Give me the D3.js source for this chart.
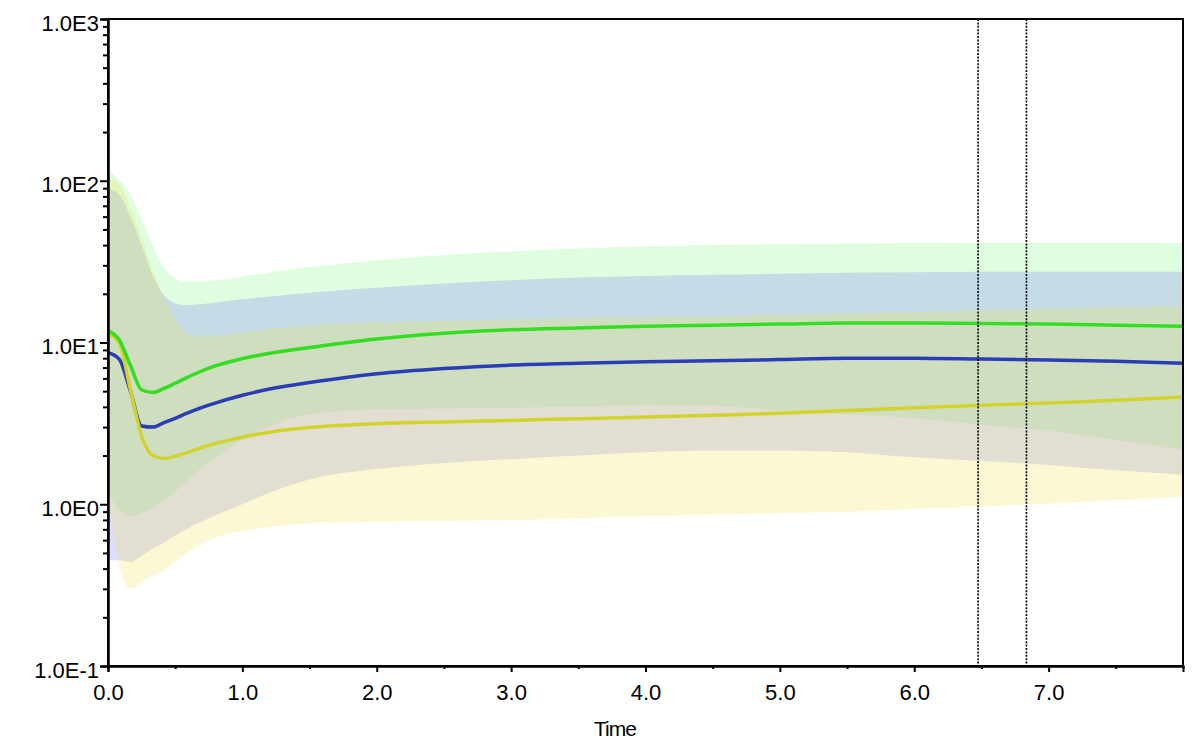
<!DOCTYPE html>
<html><head><meta charset="utf-8">
<script src="https://cdn.jsdelivr.net/npm/d3@7"></script>
<style>
body{margin:0;background:#fff}
svg{display:block}
text{font-family:"Liberation Sans",Arial,sans-serif;fill:#000}
</style>
</head><body><svg id="c" width="1200" height="746"></svg>
<script>
// ---- data ----
const times        = [0, 0.083, 0.167, 0.25, 0.333, 0.417, 0.5, 0.583, 0.667, 0.75, 1, 1.25, 1.5, 2, 2.5, 3, 3.5, 4, 4.5, 5, 5.5, 6, 6.5, 7, 7.5, 8];

const greenMedian  = [11.8, 10.4, 7.2, 5.1, 4.9, 5.2, 5.6, 6.05, 6.5, 6.95, 7.95, 8.7, 9.3, 10.5, 11.4, 12.0, 12.3, 12.6, 12.8, 13.0, 13.2, 13.2, 13.1, 13.0, 12.8, 12.6];
const greenUpper   = [119, 101, 82, 58, 40, 29, 25, 23.8, 23.8, 24, 25.5, 27.5, 29.3, 32.3, 34.8, 36.5, 38, 39.3, 40, 40.5, 41, 41.2, 41.4, 41.4, 41.3, 41.2];
const greenLower   = [1.17, 0.92, 0.84, 0.88, 0.95, 1.05, 1.2, 1.38, 1.6, 1.8, 2.5, 3.15, 3.6, 3.85, 3.9, 3.95, 4.0, 4.1, 4.05, 3.8, 3.6, 3.4, 3.1, 2.85, 2.5, 2.16];

const blueMedian   = [8.65, 7.9, 5.0, 3.05, 3.0, 3.2, 3.4, 3.65, 3.88, 4.1, 4.72, 5.25, 5.65, 6.4, 6.9, 7.25, 7.45, 7.6, 7.7, 7.85, 8.0, 8.0, 7.9, 7.8, 7.65, 7.45];
const blueUpper    = [90, 82, 60, 40, 26, 19.5, 17.5, 17, 17.2, 17.5, 18.5, 19.4, 20.3, 21.8, 23.2, 24.3, 25.2, 25.8, 26.2, 26.6, 27, 27.2, 27.4, 27.4, 27.4, 27.4];
const blueLower    = [0.45, 0.45, 0.44, 0.48, 0.53, 0.58, 0.64, 0.7, 0.76, 0.82, 1.0, 1.22, 1.42, 1.65, 1.8, 1.9, 2.0, 2.1, 2.15, 2.15, 2.1, 1.95, 1.85, 1.75, 1.62, 1.52];

const yellowMedian = [11.3, 10.0, 5.1, 2.64, 2.0, 1.92, 1.98, 2.08, 2.2, 2.31, 2.6, 2.83, 2.98, 3.15, 3.23, 3.3, 3.38, 3.46, 3.55, 3.65, 3.8, 3.95, 4.1, 4.23, 4.4, 4.6];
const yellowUpper  = [104, 95, 68, 44, 28, 19, 14, 11.5, 11, 11, 11.5, 12.2, 12.8, 13.3, 13.7, 13.9, 14.1, 14.3, 14.5, 14.8, 15.1, 15.4, 15.8, 16.1, 16.5, 16.8];
const yellowLower  = [1.17, 0.42, 0.30, 0.33, 0.36, 0.39, 0.44, 0.5, 0.55, 0.6, 0.68, 0.73, 0.76, 0.78, 0.79, 0.8, 0.82, 0.84, 0.86, 0.88, 0.9, 0.93, 0.97, 1.01, 1.06, 1.11];

const yTickValues  = [0.1, 1, 10, 100, 1000];
const yTickLabels  = ["1.0E-1", "1.0E0", "1.0E1", "1.0E2", "1.0E3"];
const xTickValues  = [0, 1, 2, 3, 4, 5, 6, 7];
const xTickLabels  = ["0.0", "1.0", "2.0", "3.0", "4.0", "5.0", "6.0", "7.0"];
const xMinorTicks  = [0.5, 1.5, 2.5, 3.5, 4.5, 5.5, 6.5, 7.5];
const markerTimes  = [6.475, 6.835];
const xTitle = "Time";

// ---- layout ----
const L = 108, R = 1183, T = 19, B = 666;
const svg = d3.select("#c");
const x = d3.scaleLinear().domain([0, 8]).range([L, R]);
const y = d3.scaleLog().domain([0.1, 1000]).range([B, T]);

svg.append("clipPath").attr("id", "clip").append("rect")
  .attr("x", L).attr("y", T).attr("width", R - L).attr("height", B - T);

const plot = svg.append("g").attr("clip-path", "url(#clip)");

const series = [
  {med: greenMedian,  lo: greenLower,  hi: greenUpper,  band: "rgb(129,247,129)", line: "#33dd22"},
  {med: blueMedian,   lo: blueLower,   hi: blueUpper,   band: "rgb(121,125,250)", line: "#2b3db5"},
  {med: yellowMedian, lo: yellowLower, hi: yellowUpper, band: "rgb(243,227,80)",  line: "#d2d22c"}
];

const area = (lo, hi) => d3.area()
  .curve(d3.curveMonotoneX)
  .x((d, i) => x(times[i]))
  .y0((d, i) => y(lo[i]))
  .y1((d, i) => y(hi[i]))(times);

series.forEach(s => {
  plot.append("path").attr("d", area(s.lo, s.hi))
    .attr("fill", s.band).attr("fill-opacity", 0.25).attr("stroke", "none");
});

const line = vals => d3.line()
  .curve(d3.curveMonotoneX)
  .x((d, i) => x(times[i]))
  .y((d, i) => y(vals[i]))(times);

[series[1], series[2], series[0]].forEach(s => {
  plot.append("path").attr("d", line(s.med))
    .attr("fill", "none").attr("stroke", s.line)
    .attr("stroke-width", 3.5).attr("stroke-linejoin", "round");
});

// dotted markers
svg.selectAll(".mk").data(markerTimes).enter().append("line")
  .attr("x1", d => x(d)).attr("x2", d => x(d))
  .attr("y1", T).attr("y2", B)
  .attr("stroke", "#000").attr("stroke-width", 1.6)
  .attr("stroke-dasharray", "2,1.4");

// frame
svg.append("rect").attr("x", L).attr("y", T).attr("width", R - L).attr("height", B - T)
  .attr("fill", "none").attr("stroke", "#000").attr("stroke-width", 2);

// y axis
const yMinor = [];
for (let e = -1; e < 3; e++) for (let k = 2; k <= 9; k++) yMinor.push(k * Math.pow(10, e));

const gyMinor = svg.append("g").attr("transform", `translate(${L},0)`)
  .call(d3.axisLeft(y).tickValues(yMinor).tickSize(5).tickFormat(""));
const gy = svg.append("g").attr("transform", `translate(${L},0)`)
  .call(d3.axisLeft(y).tickValues(yTickValues).tickSize(8).tickPadding(1)
    .tickFormat((d, i) => yTickLabels[i]));
[gy, gyMinor].forEach(g => {
  g.select(".domain").attr("stroke", "#000").attr("stroke-width", 2);
  g.selectAll(".tick line").attr("stroke", "#000").attr("stroke-width", 2);
});
gy.selectAll(".tick text").attr("font-size", 22).attr("dy", "0.5em")
  .style("font-family", '"Liberation Sans",Arial,sans-serif');

// x axis
const gxMinor = svg.append("g").attr("transform", `translate(0,${B})`)
  .call(d3.axisBottom(x).tickValues(xMinorTicks).tickSize(3).tickFormat(""));
const gx = svg.append("g").attr("transform", `translate(0,${B})`)
  .call(d3.axisBottom(x).tickValues(xTickValues).tickSize(6)
    .tickFormat((d, i) => xTickLabels[i]));
[gx, gxMinor].forEach(g => {
  g.select(".domain").attr("stroke", "#000").attr("stroke-width", 2);
  g.selectAll(".tick line").attr("stroke", "#000").attr("stroke-width", 2);
});
gx.selectAll(".tick text").attr("font-size", 22).attr("y", 34).attr("dy", 0)
  .style("font-family", '"Liberation Sans",Arial,sans-serif');

svg.append("text").attr("x", 615).attr("y", 736).attr("text-anchor", "middle")
  .attr("font-size", 21).attr("letter-spacing", "-1px").text(xTitle);
</script>
</body></html>
